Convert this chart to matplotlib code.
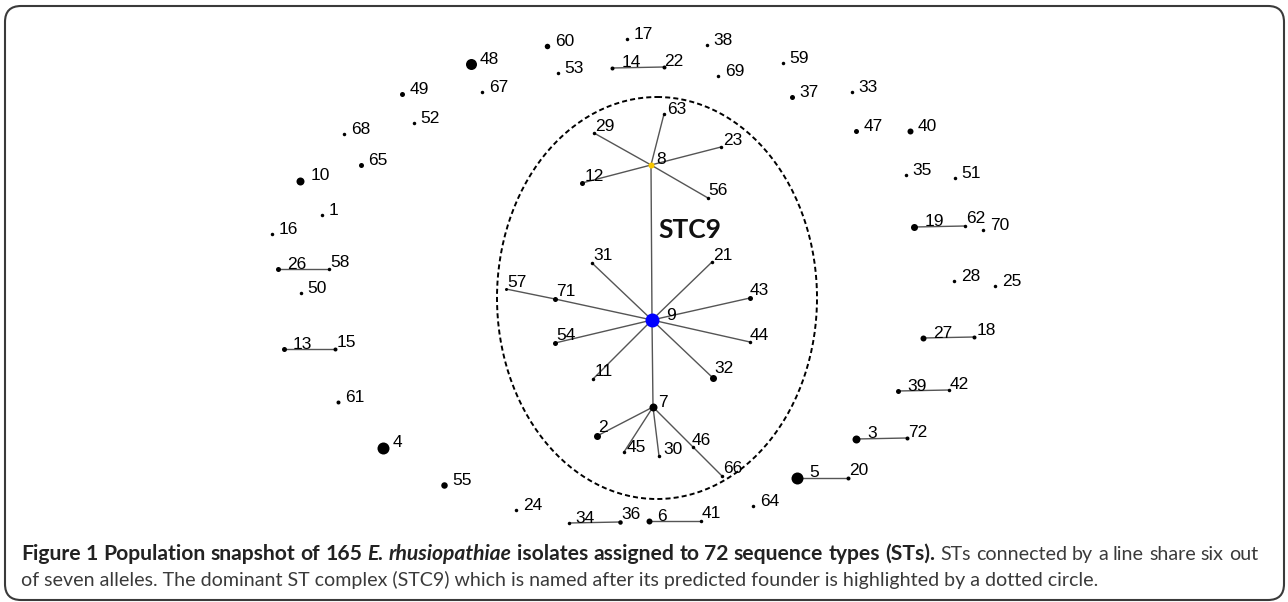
import matplotlib
matplotlib.use("Agg")
import matplotlib.pyplot as plt
from matplotlib.patches import Ellipse, FancyBboxPatch

# Population snapshot (eBURST style) - node layout (pixel units)
node_ids = [48, 60, 53, 67, 17, 14, 22, 38, 69, 59, 37, 33, 47, 40, 35, 51,
            19, 62, 70, 28, 25, 27, 18, 39, 42, 3, 72, 5, 20, 64, 6, 41,
            34, 36, 24, 55, 4, 61, 13, 15, 50, 26, 58, 16, 1, 10, 65, 68,
            52, 49,
            63, 29, 8, 23, 12, 56, 31, 21, 57, 71, 43, 9, 54, 44, 11, 32,
            7, 2, 45, 30, 46, 66]
node_x = [471, 547, 558, 482, 627, 612, 664, 707, 718, 783, 792, 852, 856, 910, 906, 955,
          914, 965, 983, 954, 995, 923, 974, 898, 949, 856, 907, 797, 848, 753, 649, 701,
          569, 620, 516, 444, 383, 338, 284, 335, 301, 278, 329, 272, 322, 300, 361, 344,
          414, 402,
          664, 594, 651, 721, 582, 708, 592, 712, 506, 555, 750, 652, 555, 750, 593, 713,
          653, 597, 624, 659, 693, 722]
node_y = [64, 46, 73, 92, 39, 68, 67, 45, 76, 63, 97, 92, 131, 131, 175, 178,
          227, 226, 230, 281, 286, 338, 337, 391, 390, 439, 438, 478, 478, 506, 521, 521,
          523, 522, 510, 485, 448, 402, 349, 349, 293, 269, 269, 234, 215, 181, 165, 134,
          123, 94,
          114, 133, 165, 147, 183, 198, 263, 262, 289, 299, 298, 320, 343, 342, 379, 378,
          407, 436, 452, 456, 447, 476]
# dot diameter (px) ~ number of isolates
node_size = [11, 5.5, 3.5, 3.5, 3.5, 4, 4, 3.5, 3.5, 3.5, 5, 3.5, 5, 6, 3.5, 3.5,
             7, 3.5, 3.5, 3.5, 3.5, 6, 4, 5, 3.5, 8, 4, 12, 4, 3.5, 6, 3.5,
             3.5, 4.5, 3.5, 6.5, 12, 4, 5, 4, 3.5, 5, 3.5, 3.5, 3.5, 8, 5, 3.5,
             3.5, 5,
             3.5, 3.5, 6, 3.5, 5, 3.5, 3.5, 3.5, 3, 5, 5, 14, 5, 3.5, 3.5, 7,
             8, 7, 3.5, 3.5, 3.5, 3.5]

# STs sharing six of seven alleles
edges = [(14, 22), (26, 58), (13, 15), (19, 62), (27, 18), (39, 42), (3, 72),
         (5, 20), (34, 36), (6, 41),
         (8, 63), (8, 29), (8, 23), (8, 12), (8, 56), (8, 9),
         (9, 31), (9, 21), (9, 71), (71, 57), (9, 43), (9, 54), (9, 44),
         (9, 11), (9, 32), (9, 7),
         (7, 2), (7, 45), (7, 30), (7, 46), (46, 66)]

founder = 9
subfounder = 8

# label offsets that differ from the default (right of the dot)
label_off = {22: (0, -1), 58: (1, -2), 62: (1, -3), 18: (3, -2), 42: (1, -1),
             72: (1, -1), 20: (1, -3), 36: (1, -3), 41: (1, -3), 15: (2, -2),
             63: (3, 0), 29: (1, -2), 23: (2, -2), 12: (3, -2), 56: (0, -3),
             8: (5, -1), 31: (1, -3), 21: (1, -2), 57: (1, -2), 71: (1, -3),
             43: (0, -3), 9: (14, 0), 54: (1, -3), 44: (0, -2), 11: (2, -3),
             32: (1, -5), 7: (5, 0), 2: (1, -4), 45: (3, 0), 30: (4, -2),
             46: (-1, -2), 66: (1, -3), 14: (10, -1), 26: (9, 0), 13: (9, 0),
             27: (10, 0), 39: (9, 0), 3: (11, -1), 5: (12, -1), 19: (11, -1),
             10: (11, -1), 4: (10, -1), 48: (9, 0)}

caption_bold = [("Figure 1 Population snapshot of 165", "normal"),
                ("E. rhusiopathiae", "italic"),
                ("isolates assigned to 72 sequence types (STs).", "normal")]
caption_line1_rest = "STs connected by a line share six out"
caption_line2 = ("of seven alleles. The dominant ST complex (STC9) which is named after its "
                 "predicted founder is highlighted by a dotted circle.")

W, H = 1288, 602
fig = plt.figure(figsize=(W / 100, H / 100), dpi=100)
ax = fig.add_axes([0, 0, 1, 1])
ax.set_xlim(0, W)
ax.set_ylim(H, 0)
ax.axis("off")

pos = {n: (x, y) for n, x, y in zip(node_ids, node_x, node_y)}

# frame
frame = FancyBboxPatch((5, 6), 1279, 594, boxstyle="round,pad=0,rounding_size=16",
                       fc="white", ec="#3a3a3a", lw=1.5, zorder=0)
ax.add_patch(frame)

# dotted circle around STC9
ax.add_patch(Ellipse((657, 298), 320, 402, fill=False, ec="black", lw=1.4,
                     linestyle=(0, (2.6, 1.6)), zorder=1))

for a, b in edges:
    ax.plot([pos[a][0], pos[b][0]], [pos[a][1], pos[b][1]], color="#555555",
            lw=1.0, zorder=2, solid_capstyle="butt")

for n, x, y, d in zip(node_ids, node_x, node_y, node_size):
    c = "black"
    if n == founder:
        c = "#0000ff"
    elif n == subfounder:
        c = "#f7c600"
    ax.plot(x, y, "o", ms=d * 0.72, color=c, mec="none", zorder=3)
    dx, dy = label_off.get(n, (d / 2 + 5, 0))
    ax.text(x + dx, y + dy, str(n), fontsize=12.5, family="Liberation Sans",
            color="black", ha="left", va="baseline", zorder=4)

ax.text(690, 238, "STC9", fontsize=19, family="Lato", fontweight="bold",
        color="#111111", ha="center", va="baseline", zorder=4)

# caption
renderer = fig.canvas.get_renderer()
inv = ax.transData.inverted()


def width_of(txt, **kw):
    t = ax.text(0, 0, txt, family="Lato", **kw)
    bb = t.get_window_extent(renderer)
    t.remove()
    return inv.transform((bb.x1, 0))[0] - inv.transform((bb.x0, 0))[0]


x_left, bold_end, x_right = 21, 937, 1258
# fit sizes to where the text ends in the figure
bold_plain = dict(fontsize=14.0, fontweight="bold")
bold_w = (width_of(caption_bold[0][0] + " ", **bold_plain)
          + width_of(caption_bold[1][0] + " ", fontstyle="italic", **bold_plain)
          + width_of(caption_bold[2][0], **bold_plain))
bold_fs = 14.0 * (bold_end - x_left) / bold_w
reg_fs = 14.0 * (1102 - x_left) / width_of(caption_line2, fontsize=14.0)

words = []
for seg, st in caption_bold:
    for w in seg.split():
        words.append((w, dict(fontsize=bold_fs, fontweight="bold", fontstyle=st, color="#222222")))
for w in caption_line1_rest.split():
    words.append((w, dict(fontsize=reg_fs, fontweight="normal", fontstyle="normal", color="#3a3a3a")))

widths = [width_of(w, **kw) for w, kw in words]
space = width_of("a a", fontsize=reg_fs) - width_of("aa", fontsize=reg_fs)
extra = (x_right - x_left - sum(widths) - space * (len(words) - 1)) / (len(words) - 1)
x = x_left
for (w, kw), wd in zip(words, widths):
    ax.text(x, 560, w, family="Lato", ha="left", va="baseline", **kw)
    x += wd + space + extra

ax.text(x_left, 586, caption_line2, family="Lato", fontsize=reg_fs, color="#3a3a3a",
        ha="left", va="baseline")

fig.savefig("out.png", dpi=100)
